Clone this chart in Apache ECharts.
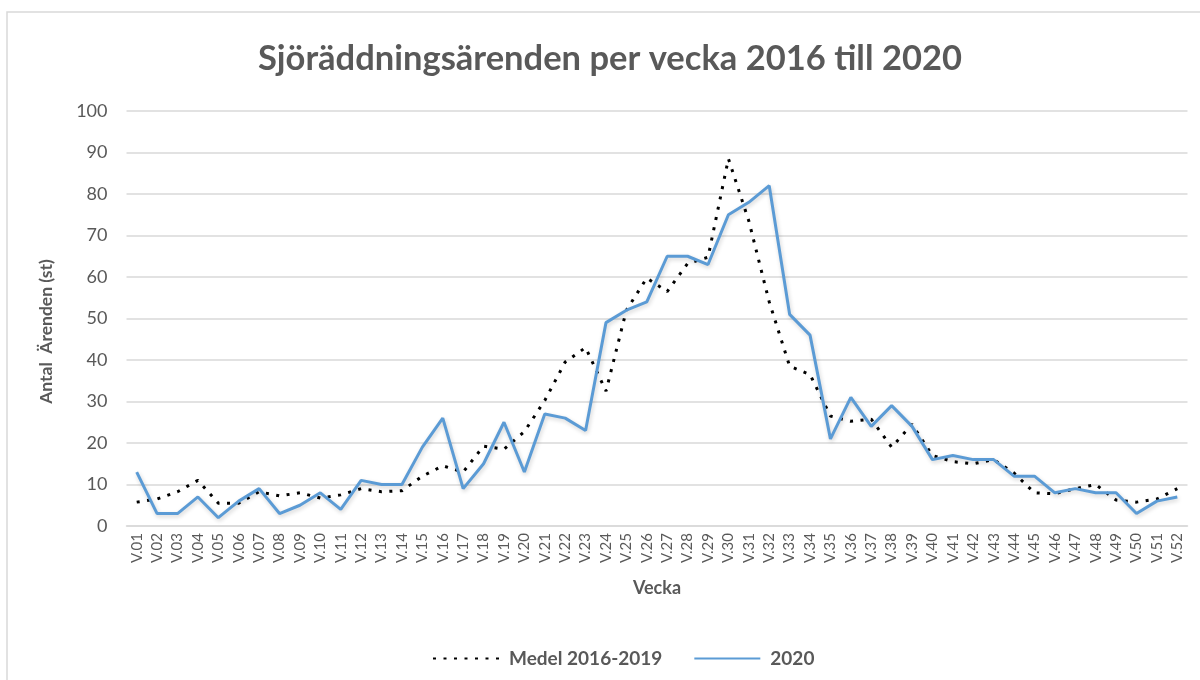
<!DOCTYPE html>
<html>
<head>
<meta charset="utf-8">
<title>Sjöräddningsärenden per vecka</title>
<script src="https://cdn.jsdelivr.net/npm/echarts@6/dist/echarts.min.js"></script>
<style>
  html, body { margin: 0; padding: 0; background: #fff; }
  #chart { width: 1200px; height: 680px; }
</style>
</head>
<body>
<div id="chart"></div>
<script>
// veckor
const weeks = [
  "V.01", "V.02", "V.03", "V.04", "V.05", "V.06", "V.07", "V.08", "V.09", "V.10",
  "V.11", "V.12", "V.13", "V.14", "V.15", "V.16", "V.17", "V.18", "V.19", "V.20",
  "V.21", "V.22", "V.23", "V.24", "V.25", "V.26", "V.27", "V.28", "V.29", "V.30",
  "V.31", "V.32", "V.33", "V.34", "V.35", "V.36", "V.37", "V.38", "V.39", "V.40",
  "V.41", "V.42", "V.43", "V.44", "V.45", "V.46", "V.47", "V.48", "V.49", "V.50",
  "V.51", "V.52"
];

// medel 2016-2019
const medel = [
  5.75, 6.5, 8.25, 11, 5.5, 5.5, 8.25, 7.25, 8, 6.75,
  7.5, 9, 8.25, 8.5, 12, 14.5, 13, 19.25, 18.5, 22.75,
  30.25, 39.5, 43, 32.5, 52, 59.75, 56.5, 63.25, 64.75, 88.5,
  73.5, 54, 38.5, 36.5, 26.5, 25.25, 25.75, 19, 24.5, 17,
  15.5, 15, 16, 12.75, 8, 7.75, 9, 10, 6.25, 5.75,
  6.5, 9
];

// 2020
const ar2020 = [
  13, 3, 3, 7, 2, 6, 9, 3, 5, 8,
  4, 11, 10, 10, 19, 26, 9, 15, 25, 13,
  27, 26, 23, 49, 52, 54, 65, 65, 63, 75,
  78, 82, 51, 46, 21, 31, 24, 29, 24, 16,
  17, 16, 16, 12, 12, 8, 9, 8, 8, 3,
  6, 7
];

const yTicks = [0, 10, 20, 30, 40, 50, 60, 70, 80, 90, 100];

(function () {
  let myChart = echarts.init(document.getElementById("chart"));
  const textGray = "#595959";
  const font = "Lato";

  let option = {
    backgroundColor: "#fff",
    animation: false,
    textStyle: { fontFamily: font },
    // ram runt diagrammet
    graphic: [
      {
        type: "rect",
        shape: { x: 7, y: 12, width: 1260, height: 720 },
        style: { fill: "none", stroke: "#d9d9d9", lineWidth: 1.5 },
        silent: true,
      },
    ],
    title: {
      text: "Sjöräddningsärenden per vecka 2016 till 2020",
      left: 253,
      top: 36,
      textStyle: {
        color: textGray,
        fontSize: 34.5,
        fontWeight: "bold",
        fontFamily: font,
      },
    },
    legend: {
      left: 427,
      top: 644,
      itemWidth: 66,
      itemHeight: 14,
      itemGap: 31,
      // bara linjen i förklaringen, ingen symbol
      itemStyle: {
        color: "rgba(0,0,0,0)",
        borderColor: "rgba(0,0,0,0)",
        borderWidth: 0,
        opacity: 0,
      },
      textStyle: {
        color: textGray,
        fontSize: 19,
        fontWeight: "bold",
        fontFamily: font,
        padding: [0, 0, 0, 5],
      },
      data: ["Medel 2016-2019", "2020"],
    },
    grid: {
      left: 126.5,
      right: 12.5,
      top: 111,
      bottom: 154,
      containLabel: false,
    },
    xAxis: {
      type: "category",
      data: weeks,
      boundaryGap: true,
      name: "Vecka",
      nameLocation: "middle",
      nameGap: 53,
      nameTextStyle: {
        color: textGray,
        fontSize: 18,
        fontWeight: "bold",
      },
      axisLine: { show: true, lineStyle: { color: "#d9d9d9", width: 1.5 } },
      axisTick: { show: false },
      axisLabel: {
        interval: 0,
        rotate: 90,
        margin: 7,
        color: textGray,
        fontSize: 15,
      },
    },
    yAxis: {
      type: "value",
      min: yTicks[0],
      max: yTicks[yTicks.length - 1],
      interval: 10,
      name: "Antal  Ärenden (st)",
      nameLocation: "middle",
      nameGap: 71,
      nameTextStyle: {
        color: textGray,
        fontSize: 17.5,
        fontWeight: "bold",
        padding: [0, 26, 0, 0],
      },
      axisLine: { show: false },
      axisTick: { show: false },
      axisLabel: {
        color: textGray,
        fontSize: 18,
        margin: 19,
      },
      splitLine: { lineStyle: { color: "#d9d9d9", width: 1.5 } },
    },
    series: [
      {
        name: "Medel 2016-2019",
        type: "line",
        data: medel,
        symbol: "none",
        lineStyle: {
          color: "#000",
          width: 3,
          type: [3, 7.5],
        },
        itemStyle: { color: "#000" },
      },
      {
        name: "2020",
        type: "line",
        data: ar2020,
        symbol: "none",
        lineStyle: {
          color: "#5b9bd5",
          width: 3,
          shadowColor: "rgba(0,0,0,0.18)",
          shadowBlur: 4,
          shadowOffsetX: 1,
          shadowOffsetY: 2,
        },
        itemStyle: { color: "#5b9bd5" },
      },
    ],
  };

  myChart.setOption(option);
  window.addEventListener("resize", function () {
    myChart.resize();
  });
})();
</script>
</body>
</html>
